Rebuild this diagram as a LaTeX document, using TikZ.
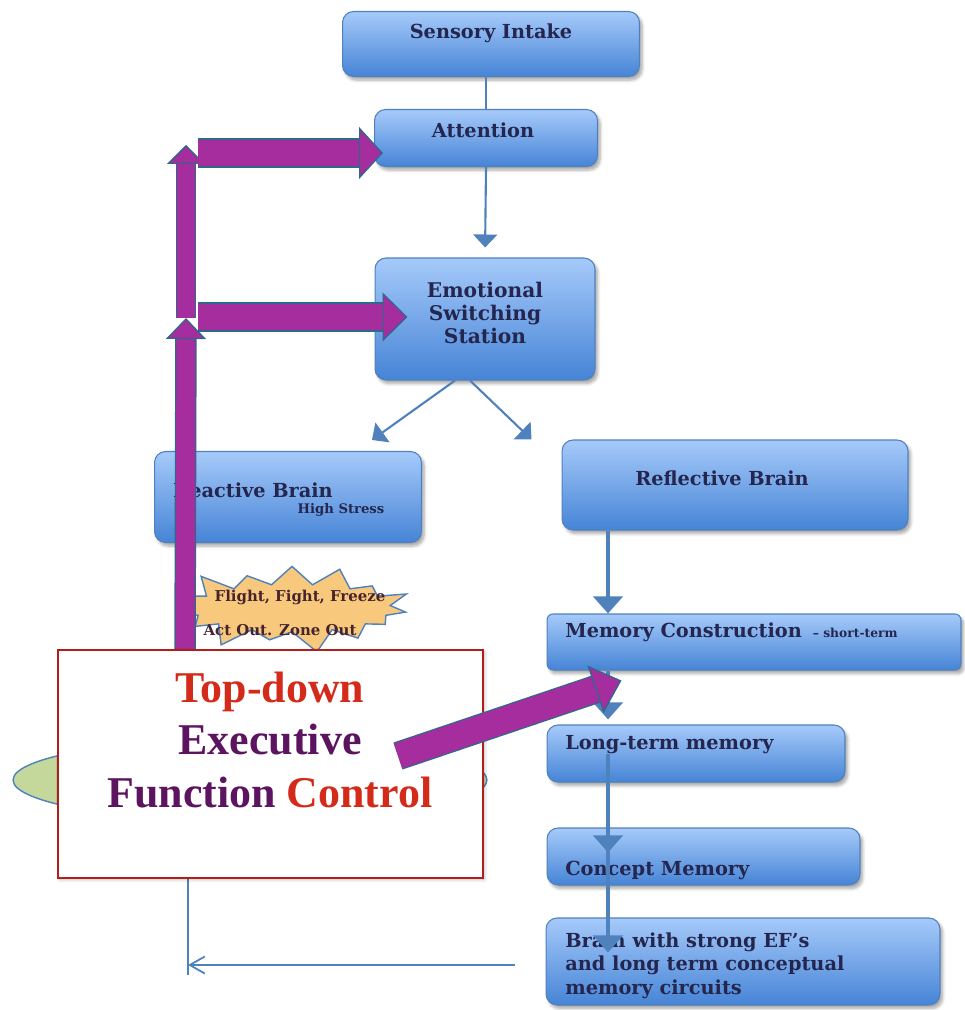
\documentclass[tikz,border=0pt]{standalone}
\usepackage{fontspec}
\usetikzlibrary{arrows.meta,shapes.geometric,shapes.symbols,shadows.blur}
\newfontfamily\boxfont{DejaVu Serif}
\newfontfamily\efont{Liberation Serif}
\definecolor{BT}{RGB}{166,202,250}
\definecolor{BB}{RGB}{70,132,214}
\definecolor{BL}{RGB}{79,129,189}
\definecolor{TX}{RGB}{36,38,78}
\definecolor{P}{RGB}{165,45,158}
\definecolor{PE}{RGB}{45,105,140}
\definecolor{R}{RGB}{212,42,26}
\definecolor{RB}{RGB}{178,30,25}
\definecolor{V}{RGB}{92,20,96}
\definecolor{S}{RGB}{248,201,124}
\definecolor{G}{RGB}{197,216,155}
\definecolor{BR}{RGB}{70,35,45}

\tikzset{
  box/.style={draw=BL, line width=0.6pt, rounded corners=0.22cm, top color=BT, bottom color=BB,
    blur shadow={shadow blur steps=6, shadow xshift=1.5pt, shadow yshift=-2pt, shadow opacity=35}},
  txt/.style={font=\boxfont\bfseries\fontsize{11}{13.4}\selectfont, text=TX, inner sep=0pt},
  small/.style={font=\boxfont\bfseries\fontsize{7.5}{9}\selectfont, text=TX, inner sep=0pt},
  link/.style={draw=BL, line width=1.2pt, -{Triangle[width=0.48cm,length=0.26cm]}},
  thick link/.style={draw=BL, line width=2.6pt, -{Triangle[width=0.58cm,length=0.34cm]}},
  parrow/.style n args={3}{line width=#1, draw=P, -{Triangle[width=#2,length=#3,fill=P,color=PE,line width=0.7pt]},
    preaction={draw=PE, line width=#1+1.4pt, -, shorten >=#3}}
}

\begin{document}
\begin{tikzpicture}[x=0.02cm, y=-0.02cm]
\useasboundingbox (0,0) rectangle (964,1010);

% green ellipse behind the red box
\node[ellipse, draw=BL, fill=G, line width=0.8pt, minimum width=9.48cm, minimum height=1.66cm] (ell) at (250,780) {};

% boxes
\node[box, minimum width=5.94cm, minimum height=1.3cm] (sens) at (491,44) {};
\node[box, minimum width=4.46cm, minimum height=1.14cm] (att) at (486,138) {};
\node[box, minimum width=4.4cm, minimum height=2.44cm] (emo) at (485,319) {};
\node[box, minimum width=5.34cm, minimum height=1.82cm] (react) at (288,497) {};
\node[box, minimum width=6.92cm, minimum height=1.8cm] (refl) at (735,485) {};
\node[box, rounded corners=0.12cm, minimum width=8.28cm, minimum height=1.12cm] (memc) at (754,642) {};
\node[box, minimum width=5.96cm, minimum height=1.14cm] (ltm) at (696,753.5) {};
\node[box, minimum width=6.26cm, minimum height=1.14cm] (conc) at (703.5,856.5) {};
\node[box, minimum width=7.88cm, minimum height=1.74cm] (brain) at (743,961.5) {};

% texts
\node[txt] (tsens) at (491,33) {Sensory Intake};
\node[txt] (tatt) at (483,130) {Attention};
\node[txt, align=center, font=\boxfont\bfseries\fontsize{11.5}{13.2}\selectfont] (temo) at (485,313) {Emotional\\Switching\\Station};
\node[txt] (treact) at (253,490) {Reactive Brain};
\node[small] (tstress) at (341,510) {High Stress};
\node[txt] (trefl) at (722,478) {Reflective Brain};
\node[txt, anchor=west] (tmemc) at (565,632) {Memory Construction {\fontsize{7}{8}\selectfont\ – short-term}};
\node[txt, anchor=west] (tltm) at (565,745) {Long-term memory};
\node[txt, anchor=west] (tconc) at (565,870) {Concept Memory};
\node[txt, anchor=north west, align=left] (tbrain) at (565,932) {Brain with strong EF’s\\and long term conceptual\\memory circuits};

% blue connectors
\coordinate (mx) at (608,0);
\draw[draw=BL, line width=1.2pt] (sens.south -| att) -- (att.north);
\draw[link, shorten >=0.2cm] (att.south) -- (emo.north);
\draw[link] ([xshift=-0.6cm]emo.south) -- ([xshift=1.68cm,yshift=0.22cm]react.north);
\draw[link] ([xshift=-0.3cm]emo.south) -- ([xshift=-0.6cm]refl.north west);
\draw[thick link] (mx |- refl.south) -- (mx |- memc.north);
\draw[thick link, shorten >=0.1cm] (mx |- memc.south) -- (mx |- ltm.north);
\draw[thick link, shorten >=-0.5cm] (mx |- ltm) -- (mx |- conc.north);
\draw[thick link, shorten >=-0.7cm] (mx |- conc.north) -- (mx |- brain.north);

% feedback line
\coordinate (fb) at (188,965);
\draw[draw=BL, line width=1pt, -{Straight Barb[length=0.3cm,width=0.34cm]}] ([xshift=-0.62cm]brain.west |- fb) -- (fb);
\draw[draw=BL, line width=1pt] ([yshift=-0.2cm]fb) -- (fb |- 0,878);

% starburst
\node[starburst, starburst points=15, starburst point height=0.5cm, draw=BL, fill=S, line width=0.8pt,
  minimum width=4.95cm, minimum height=1.95cm] (burst) at (292,608) {};
\node[font=\boxfont\bfseries\fontsize{8.5}{10}\selectfont, text=BR, inner sep=0pt] (tb1) at (300,597) {Flight, Fight, Freeze};
\node[font=\boxfont\bfseries\fontsize{8.5}{10}\selectfont, text=BR, inner sep=0pt] (tb2) at (280,630) {Act Out. Zone Out};

% purple control arrows
\coordinate (up) at (186,318);
\coordinate (h1) at (198,153);
\coordinate (h2) at (198,317);
\path (h1 -| att.west) ++(9,0) coordinate (t1);
\path (h2 -| emo.west) ++(33,0) coordinate (t2);
\draw[parrow={0.38cm}{0.8cm}{0.42cm}] (185,660) -- (up);
\draw[parrow={0.36cm}{0.76cm}{0.38cm}] (up) -- (186,145);
\draw[parrow={0.54cm}{1.04cm}{0.48cm}] (h1) -- (t1);
\draw[parrow={0.54cm}{0.98cm}{0.5cm}] (h2) -- (t2);

% executive function box
\node[draw=RB, line width=1.6pt, fill=white, minimum width=8.5cm, minimum height=4.56cm,
  blur shadow={shadow blur steps=4, shadow xshift=1pt, shadow yshift=-1pt, shadow opacity=25}] (ef) at (270.5,764) {};
\node[font=\efont\bfseries\fontsize{25}{30}\selectfont, align=center, inner sep=0pt] (tef) at (270,740)
  {\textcolor{R}{Top-down}\\\textcolor{V}{Executive}\\\textcolor{V}{Function} \textcolor{R}{Control}};

\draw[parrow={0.52cm}{1.0cm}{0.55cm}] (398,756) -- ([xshift=1.5cm,yshift=-0.2cm]memc.south west);
\end{tikzpicture}
\end{document}
